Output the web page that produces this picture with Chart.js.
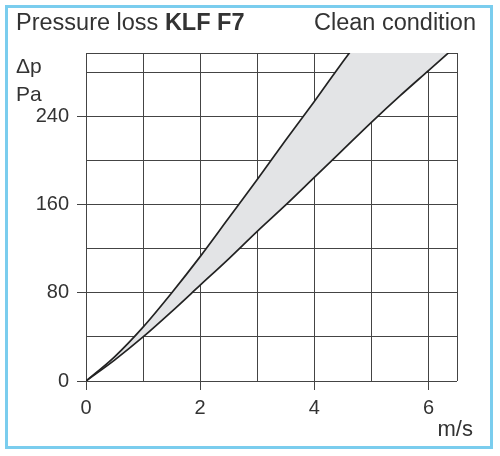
<!DOCTYPE html>
<html>
<head>
<meta charset="utf-8">
<script src="https://cdn.jsdelivr.net/npm/chart.js@4/dist/chart.umd.min.js"></script>
<style>
  body { margin: 0; background: #fff; }
  #wrap { position: relative; width: 500px; height: 456px; overflow: hidden; font-family: "Liberation Sans", Arial, sans-serif; color: #333; }
  #frame { position: absolute; left: 5px; top: 5px; width: 482px; height: 438px; border: 3px solid #7acdee; }
  canvas { position: absolute; left: 0; top: 0; }
  .txt { position: absolute; white-space: nowrap; }
</style>
</head>
<body>
<div id="wrap">
  <div id="frame"></div>
  <canvas id="lossChart" width="500" height="456"></canvas>
  <div class="txt" style="left:16px; top:9px; font-size:23.5px;">Pressure loss <b>KLF F7</b></div>
  <div class="txt" style="right:24px; top:9px; font-size:23.5px;">Clean condition</div>
  <div class="txt" style="left:16px; top:52px; font-size:21px; line-height:28px;">&Delta;p<br>Pa</div>
  <div class="txt" style="right:27px; top:416px; font-size:22px;">m/s</div>
</div>
<script>
// air velocity (m/s) and pressure loss (Pa)
const velocity = [0, 0.5, 1, 1.5, 2, 2.5, 3, 3.5, 4, 4.5, 5, 5.5, 6, 6.5];
const lossUpper = [0, 22, 49, 80, 113, 148, 183, 219, 254, 290, 325, 362, 398, 435];
const lossLower = [0, 19, 40, 63, 87, 111, 136, 160, 185, 210, 235, 259, 282, 305];

const xGrid = [0, 1, 2, 3, 4, 5, 6, 6.5];
const xLabels = [0, 2, 4, 6];
const yGrid = [0, 40, 80, 120, 160, 200, 240, 280, 298];
const yLabels = [0, 80, 160, 240];

function toPoints(xs, ys) {
    return xs.map((x, i) => ({ x: x, y: ys[i] }));
}

const ctx = document.getElementById('lossChart').getContext('2d');
new Chart(ctx, {
    type: 'line',
    data: {
        datasets: [
            {
                label: 'upper',
                data: toPoints(velocity, lossUpper),
                borderColor: '#222',
                borderWidth: 1.7,
                pointRadius: 0,
                cubicInterpolationMode: 'monotone',
                fill: '+1',
                backgroundColor: '#e3e4e6'
            },
            {
                label: 'lower',
                data: toPoints(velocity, lossLower),
                borderColor: '#222',
                borderWidth: 1.7,
                pointRadius: 0,
                cubicInterpolationMode: 'monotone',
                fill: false
            }
        ]
    },
    options: {
        responsive: false,
        animation: false,
        layout: { padding: { top: 53, right: 43, left: 0, bottom: 0 } },
        plugins: {
            legend: { display: false },
            tooltip: { enabled: false },
            filler: { drawTime: 'beforeDatasetsDraw' }
        },
        scales: {
            x: {
                type: 'linear',
                min: 0,
                max: 6.5,
                afterBuildTicks: scale => { scale.ticks = xGrid.map(v => ({ value: v })); },
                afterFit: scale => { scale.height = 75; },
                grid: {
                    color: '#444',
                    lineWidth: 1,
                    tickLength: 9,
                    tickColor: c => xLabels.includes(c.tick.value) ? '#444' : 'rgba(0,0,0,0)'
                },
                border: { display: false },
                ticks: {
                    autoSkip: false,
                    maxRotation: 0,
                    padding: 6,
                    color: '#333',
                    font: { family: '"Liberation Sans", Arial, sans-serif', size: 20 },
                    callback: v => xLabels.includes(v) ? String(v) : ''
                }
            },
            y: {
                type: 'linear',
                min: 0,
                max: 298,
                afterBuildTicks: scale => { scale.ticks = yGrid.map(v => ({ value: v })); },
                afterFit: scale => { scale.width = 86; },
                grid: {
                    color: '#444',
                    lineWidth: 1,
                    tickLength: 9,
                    tickColor: c => yLabels.includes(c.tick.value) ? '#444' : 'rgba(0,0,0,0)'
                },
                border: { display: false },
                ticks: {
                    autoSkip: false,
                    padding: 8,
                    color: '#333',
                    font: { family: '"Liberation Sans", Arial, sans-serif', size: 20 },
                    callback: v => yLabels.includes(v) ? String(v) : ''
                }
            }
        }
    }
});
</script>
</body>
</html>
